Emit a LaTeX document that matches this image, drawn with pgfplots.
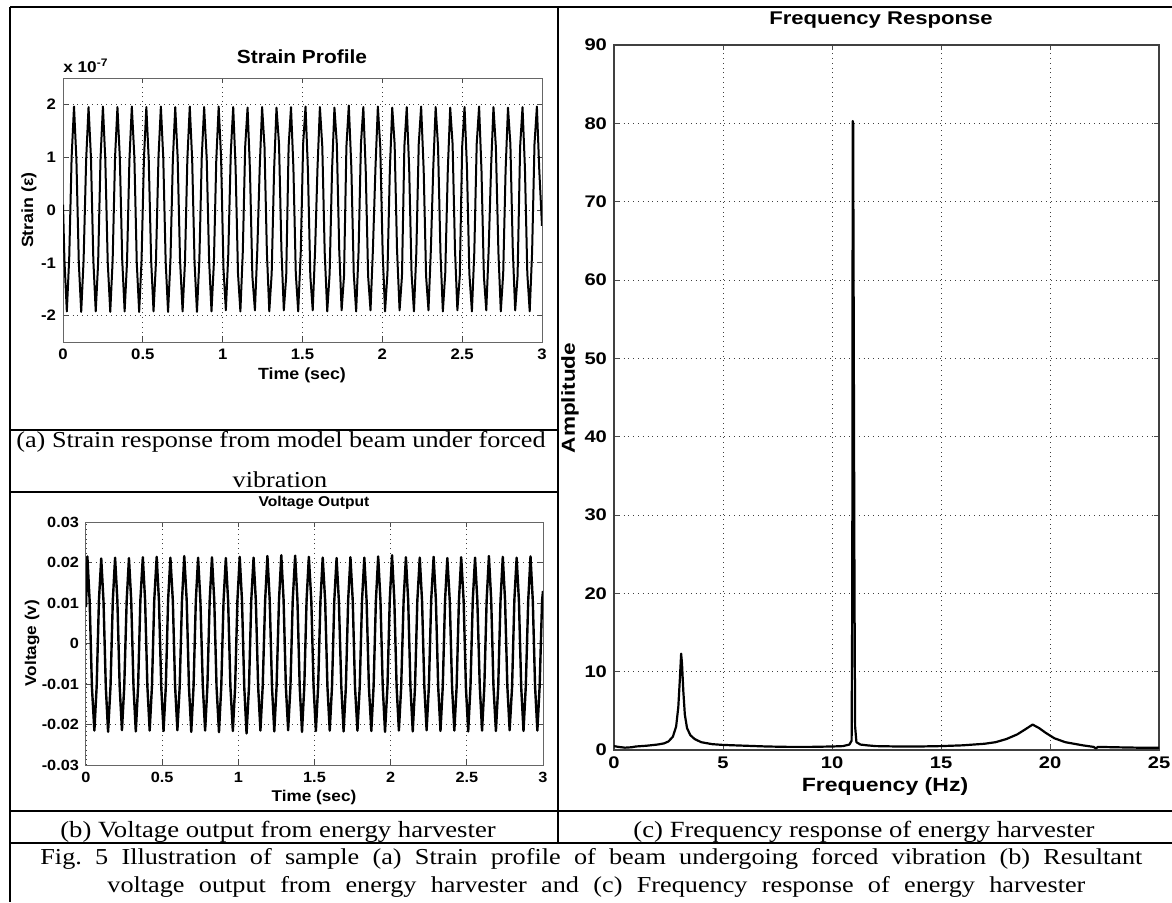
\documentclass[border=0pt]{standalone}
\usepackage{fontspec}
\setmainfont{Liberation Serif}
\newfontfamily\capfont[FakeStretch=1.15]{Liberation Serif}
\newfontfamily\fa[FakeStretch=1.1]{Liberation Sans}
\newfontfamily\fc[FakeStretch=1.2]{Liberation Sans}
\usepackage{pgfplots}
\pgfplotsset{compat=1.18}
\pgfplotsset{mat/.style={scale only axis, anchor=south west, tick align=inside, grid=major,
  major grid style={dotted, black!75, line width=0.45pt},
  axis line style={black!60, line width=0.5pt},
  major tick length=2.5pt, every tick/.style={black!70, line width=0.5pt},
  scaled x ticks=false, scaled y ticks=false,
  /pgf/number format/assume math mode=true}}
\frenchspacing
\begin{document}
\begin{tikzpicture}
\useasboundingbox (0,0) rectangle (586pt,-451pt);
% ---------------- (a) Strain profile ----------------
\begin{axis}[mat, at={(31.5pt,-171pt)}, width=239.5pt, height=132pt,
  xmin=0, xmax=3, ymin=-2.5, ymax=2.5,
  xtick={0,0.5,1,1.5,2,2.5,3}, xticklabels={0,0.5,1,1.5,2,2.5,3},
  ytick={-2,-1,0,1,2}, yticklabels={-2,-1,0,1,2},
  ticklabel style={font=\fa\bfseries\fontsize{7.6}{9}\selectfont}]
\addplot[black, line width=1pt, line join=round] coordinates {
(0.000,0.10)
(0.009,-0.95) (0.024,-1.92) (0.039,-0.90) (0.054,1.00) (0.069,1.96) (0.084,0.95)
(0.099,-1.00) (0.114,-1.93) (0.129,-0.95) (0.145,0.95) (0.160,1.95) (0.175,1.00)
(0.190,-0.95) (0.205,-1.92) (0.220,-1.00) (0.235,0.98) (0.250,1.96) (0.265,0.95)
(0.280,-0.98) (0.296,-1.93) (0.311,-0.95) (0.326,1.00) (0.341,1.95) (0.356,0.98)
(0.371,-0.95) (0.386,-1.92) (0.401,-0.98) (0.416,0.95) (0.431,1.96) (0.447,1.00)
(0.462,-1.00) (0.477,-1.93) (0.492,-0.95) (0.507,0.98) (0.522,1.95) (0.537,0.95)
(0.552,-0.95) (0.567,-1.92) (0.582,-1.00) (0.598,1.00) (0.613,1.96) (0.628,0.98)
(0.643,-0.98) (0.658,-1.93) (0.673,-0.95) (0.688,0.95) (0.703,1.95) (0.718,1.00)
(0.733,-0.95) (0.749,-1.92) (0.764,-0.98) (0.779,0.98) (0.794,1.96) (0.809,0.95)
(0.824,-1.00) (0.839,-1.93) (0.854,-0.95) (0.869,1.00) (0.884,1.95) (0.900,0.98)
(0.915,-0.95) (0.930,-1.92) (0.945,-1.00) (0.960,0.95) (0.975,1.96) (0.990,1.00)
(1.005,-1.10) (1.020,-1.90) (1.035,-0.85) (1.051,1.10) (1.066,1.95) (1.081,0.80)
(1.096,-1.20) (1.111,-1.92) (1.126,-0.80) (1.141,1.20) (1.156,1.94) (1.171,0.75)
(1.186,-1.25) (1.202,-1.90) (1.217,-0.75) (1.232,0.80) (1.247,1.95) (1.262,1.20)
(1.277,-0.80) (1.292,-1.92) (1.307,-1.20) (1.322,0.75) (1.337,1.94) (1.353,1.25)
(1.368,-0.75) (1.383,-1.90) (1.398,-1.25) (1.413,1.20) (1.428,1.95) (1.443,0.80)
(1.458,-1.20) (1.473,-1.92) (1.489,-0.80) (1.504,1.25) (1.519,1.96) (1.534,0.75)
(1.549,-1.25) (1.564,-1.90) (1.579,-0.75) (1.594,0.80) (1.609,1.95) (1.624,1.20)
(1.639,-0.80) (1.655,-1.92) (1.670,-1.20) (1.685,0.75) (1.700,1.94) (1.715,1.25)
(1.730,-0.75) (1.745,-1.90) (1.760,-1.25) (1.775,1.20) (1.790,1.98) (1.806,0.80)
(1.821,-1.20) (1.836,-1.92) (1.851,-0.80) (1.866,1.25) (1.881,1.95) (1.896,0.75)
(1.911,-1.25) (1.926,-1.90) (1.941,-0.75) (1.957,0.80) (1.972,1.96) (1.987,1.20)
(2.002,-0.80) (2.017,-1.92) (2.032,-1.20) (2.047,0.75) (2.062,1.94) (2.077,1.25)
(2.092,-0.75) (2.108,-1.90) (2.123,-1.25) (2.138,1.20) (2.153,1.95) (2.168,0.80)
(2.183,-1.20) (2.198,-1.92) (2.213,-0.80) (2.228,1.25) (2.243,1.96) (2.259,0.75)
(2.274,-1.25) (2.289,-1.90) (2.304,-0.75) (2.319,0.80) (2.334,1.95) (2.349,1.20)
(2.364,-0.80) (2.379,-1.92) (2.394,-1.20) (2.410,0.75) (2.425,1.94) (2.440,1.25)
(2.455,-0.75) (2.470,-1.90) (2.485,-1.25) (2.500,1.20) (2.515,1.95) (2.530,0.80)
(2.545,-1.20) (2.561,-1.92) (2.576,-0.80) (2.591,1.25) (2.606,1.96) (2.621,0.75)
(2.636,-1.25) (2.651,-1.90) (2.666,-0.75) (2.681,0.80) (2.696,1.95) (2.711,1.20)
(2.727,-0.80) (2.742,-1.92) (2.757,-1.20) (2.772,0.75) (2.787,1.94) (2.802,1.25)
(2.817,-0.75) (2.832,-1.90) (2.847,-1.25) (2.863,1.20) (2.878,1.95) (2.893,0.80)
(2.908,-1.20) (2.923,-1.92) (2.938,-0.80) (2.953,1.25) (2.968,1.96) (2.983,0.75)
(3.000,-0.30)
};
\end{axis}
% ---------------- (b) Voltage output ----------------
\begin{axis}[mat, at={(43pt,-382.5pt)}, width=228.5pt, height=121.5pt,
  xmin=0, xmax=3, ymin=-0.03, ymax=0.03,
  xtick={0,0.5,1,1.5,2,2.5,3}, xticklabels={0,0.5,1,1.5,2,2.5,3},
  ytick={-0.03,-0.02,-0.01,0,0.01,0.02,0.03}, yticklabels={-0.03,-0.02,-0.01,0,0.01,0.02,0.03},
  ticklabel style={font=\fa\bfseries\fontsize{7.4}{9}\selectfont}]
\addplot[black, line width=1.2pt, line join=round] coordinates {
(0.000,0.0090)
(0.009,0.0215) (0.024,0.0105) (0.039,-0.0108) (0.055,-0.0215) (0.070,-0.0106) (0.085,0.0107)
(0.100,0.0210) (0.115,0.0104) (0.130,-0.0107) (0.145,-0.0218) (0.161,-0.0105) (0.176,0.0106)
(0.191,0.0212) (0.206,0.0106) (0.221,-0.0106) (0.236,-0.0214) (0.251,-0.0107) (0.267,0.0105)
(0.282,0.0211) (0.297,0.0105) (0.312,-0.0108) (0.327,-0.0217) (0.342,-0.0106) (0.357,0.0107)
(0.373,0.0213) (0.388,0.0106) (0.403,-0.0106) (0.418,-0.0215) (0.433,-0.0105) (0.448,0.0106)
(0.464,0.0214) (0.479,0.0105) (0.494,-0.0107) (0.509,-0.0216) (0.524,-0.0106) (0.539,0.0107)
(0.554,0.0212) (0.570,0.0106) (0.585,-0.0106) (0.600,-0.0214) (0.615,-0.0107) (0.630,0.0105)
(0.645,0.0216) (0.661,0.0107) (0.676,-0.0108) (0.691,-0.0218) (0.706,-0.0106) (0.721,0.0106)
(0.736,0.0212) (0.751,0.0105) (0.767,-0.0106) (0.782,-0.0215) (0.797,-0.0105) (0.812,0.0107)
(0.827,0.0213) (0.842,0.0106) (0.857,-0.0107) (0.873,-0.0219) (0.888,-0.0106) (0.903,0.0105)
(0.918,0.0211) (0.933,0.0105) (0.948,-0.0106) (0.964,-0.0216) (0.979,-0.0107) (0.994,0.0106)
(1.009,0.0214) (1.024,0.0106) (1.039,-0.0108) (1.054,-0.0222) (1.070,-0.0106) (1.085,0.0107)
(1.100,0.0212) (1.115,0.0105) (1.130,-0.0106) (1.145,-0.0215) (1.160,-0.0105) (1.176,0.0106)
(1.191,0.0216) (1.206,0.0107) (1.221,-0.0107) (1.236,-0.0217) (1.251,-0.0106) (1.267,0.0107)
(1.282,0.0218) (1.297,0.0108) (1.312,-0.0106) (1.327,-0.0214) (1.342,-0.0107) (1.357,0.0106)
(1.373,0.0217) (1.388,0.0107) (1.403,-0.0108) (1.418,-0.0218) (1.433,-0.0106) (1.448,0.0107)
(1.463,0.0214) (1.479,0.0106) (1.494,-0.0106) (1.509,-0.0216) (1.524,-0.0105) (1.539,0.0105)
(1.554,0.0212) (1.570,0.0105) (1.585,-0.0107) (1.600,-0.0215) (1.615,-0.0106) (1.630,0.0106)
(1.645,0.0211) (1.660,0.0105) (1.676,-0.0106) (1.691,-0.0217) (1.706,-0.0107) (1.721,0.0107)
(1.736,0.0213) (1.751,0.0106) (1.766,-0.0108) (1.782,-0.0215) (1.797,-0.0106) (1.812,0.0106)
(1.827,0.0212) (1.842,0.0106) (1.857,-0.0106) (1.873,-0.0216) (1.888,-0.0105) (1.903,0.0105)
(1.918,0.0215) (1.933,0.0107) (1.948,-0.0107) (1.963,-0.0218) (1.979,-0.0106) (1.994,0.0107)
(2.009,0.0218) (2.024,0.0108) (2.039,-0.0106) (2.054,-0.0215) (2.069,-0.0107) (2.085,0.0106)
(2.100,0.0213) (2.115,0.0106) (2.130,-0.0108) (2.145,-0.0217) (2.160,-0.0106) (2.175,0.0105)
(2.191,0.0212) (2.206,0.0105) (2.221,-0.0106) (2.236,-0.0214) (2.251,-0.0105) (2.266,0.0107)
(2.282,0.0214) (2.297,0.0106) (2.312,-0.0107) (2.327,-0.0216) (2.342,-0.0106) (2.357,0.0106)
(2.372,0.0211) (2.388,0.0105) (2.403,-0.0106) (2.418,-0.0215) (2.433,-0.0107) (2.448,0.0105)
(2.463,0.0213) (2.479,0.0106) (2.494,-0.0108) (2.509,-0.0217) (2.524,-0.0106) (2.539,0.0107)
(2.554,0.0212) (2.569,0.0106) (2.585,-0.0106) (2.600,-0.0215) (2.615,-0.0105) (2.630,0.0106)
(2.645,0.0216) (2.660,0.0107) (2.675,-0.0107) (2.691,-0.0216) (2.706,-0.0106) (2.721,0.0105)
(2.736,0.0214) (2.751,0.0106) (2.766,-0.0106) (2.781,-0.0214) (2.797,-0.0107) (2.812,0.0107)
(2.827,0.0212) (2.842,0.0105) (2.857,-0.0108) (2.872,-0.0216) (2.887,-0.0106) (2.903,0.0106)
(2.918,0.0215) (2.933,0.0106) (2.948,-0.0106) (2.963,-0.0215) (2.978,-0.0105) (2.994,0.0106)
(3.000,0.0130)
};
\end{axis}
% ---------------- (c) Frequency response ----------------
\begin{axis}[mat, at={(307pt,-375pt)}, width=272.5pt, height=352.5pt,
  xmin=0, xmax=25, ymin=0, ymax=90,
  xtick={0,5,10,15,20,25}, xticklabels={0,5,10,15,20,25},
  ytick={0,10,20,30,40,50,60,70,80,90}, yticklabels={0,10,20,30,40,50,60,70,80,90},
  axis line style={black!75, line width=0.6pt},
  ticklabel style={font=\fc\bfseries\fontsize{8.4}{10}\selectfont}]
\addplot[black, line width=1.1pt, line join=round] coordinates {
(0.00,0.50) (0.20,0.40) (0.50,0.30) (0.80,0.35) (1.00,0.45) (1.50,0.55) (2.00,0.70)
(2.30,0.85) (2.50,1.10) (2.70,1.70) (2.85,3.00) (2.95,5.50) (3.02,9.00) (3.08,12.30)
(3.12,11.00) (3.18,7.50) (3.25,4.50) (3.35,2.80) (3.50,1.90) (3.70,1.40) (4.00,1.00)
(4.50,0.75) (5.00,0.65) (6.00,0.55) (7.00,0.45) (8.00,0.40) (9.00,0.40) (10.00,0.45)
(10.50,0.50) (10.80,0.70) (10.90,1.20) (10.93,20.00) (10.95,80.30) (10.97,80.00)
(10.99,60.50) (11.01,41.00) (11.03,21.50) (11.06,3.00) (11.12,1.00) (11.30,0.70)
(11.60,0.60) (12.00,0.50) (13.00,0.45) (14.00,0.45) (15.00,0.50) (16.00,0.60)
(17.00,0.80) (17.50,1.00) (18.00,1.40) (18.50,2.00) (18.90,2.70) (19.20,3.25)
(19.50,2.80) (19.80,2.20) (20.20,1.50) (20.70,1.00) (21.50,0.60) (22.00,0.40)
(22.10,0.20) (22.20,0.40) (23.00,0.35) (24.00,0.30) (25.00,0.30)
};
\end{axis}
% ---------------- frame, titles, labels, captions ----------------
\begin{scope}[x=0.5pt, y=-0.5pt]
\draw[line width=1pt] (10,7) -- (1172,7);
\draw[line width=1pt] (10,7) -- (10,902);
\draw[line width=0.6pt] (558,7) -- (558,843);
\draw[line width=1pt] (10,430) -- (558,430);
\draw[line width=0.8pt] (10,492) -- (558,492);
\draw[line width=1pt] (10,811) -- (1172,811);
\draw[line width=1pt] (10,843) -- (1172,843);
% (a)
\node[font=\fa\bfseries\fontsize{9.5}{11}\selectfont] at (302,57) {Strain Profile};
\node[font=\fa\bfseries\fontsize{7.8}{9}\selectfont, anchor=base west, inner sep=0pt] at (63,72) {x 10\textsuperscript{-7}};
\node[font=\fa\bfseries\fontsize{8.1}{10}\selectfont, rotate=90] at (29,210) {Strain (ε)};
\node[font=\fa\bfseries\fontsize{8.1}{10}\selectfont] at (302,375) {Time (sec)};
\node[font=\capfont\fontsize{11.4}{14}\selectfont, anchor=base, inner sep=0pt] at (281,447) {(a) Strain response from model beam under forced};
\node[font=\capfont\fontsize{11.4}{14}\selectfont, anchor=base, inner sep=0pt] at (280,487) {vibration};
% (b)
\node[font=\fa\bfseries\fontsize{7.1}{9}\selectfont] at (314,503) {Voltage Output};
\node[font=\fa\bfseries\fontsize{7.8}{9}\selectfont, rotate=90] at (32,643) {Voltage (v)};
\node[font=\fa\bfseries\fontsize{7.8}{9}\selectfont] at (314,797) {Time (sec)};
\node[font=\capfont\fontsize{11.6}{14}\selectfont, anchor=base, inner sep=0pt] at (278,837) {(b) Voltage output from energy harvester};
% (c)
\node[font=\fc\bfseries\fontsize{9.2}{11}\selectfont] at (881,20) {Frequency Response};
\node[font=\fc\bfseries\fontsize{9.4}{11}\selectfont, rotate=90] at (570,398) {Amplitude};
\node[font=\fc\bfseries\fontsize{9.6}{11}\selectfont] at (885,787) {Frequency (Hz)};
\node[font=\capfont\fontsize{11.6}{14}\selectfont, anchor=base, inner sep=0pt] at (864,837) {(c) Frequency response of energy harvester};
% figure caption
\node[font=\capfont\fontsize{11.4}{14}\selectfont, anchor=base west, inner sep=0pt] at (40,864)
  {\makebox[551pt][s]{Fig. 5 Illustration of sample (a) Strain profile of beam undergoing forced vibration (b) Resultant}};
\node[font=\capfont\fontsize{11.4}{14}\selectfont, anchor=base west, inner sep=0pt] at (107,892)
  {\makebox[489pt][s]{voltage output from energy harvester and (c) Frequency response of energy harvester}};
\end{scope}
\end{tikzpicture}
\end{document}
